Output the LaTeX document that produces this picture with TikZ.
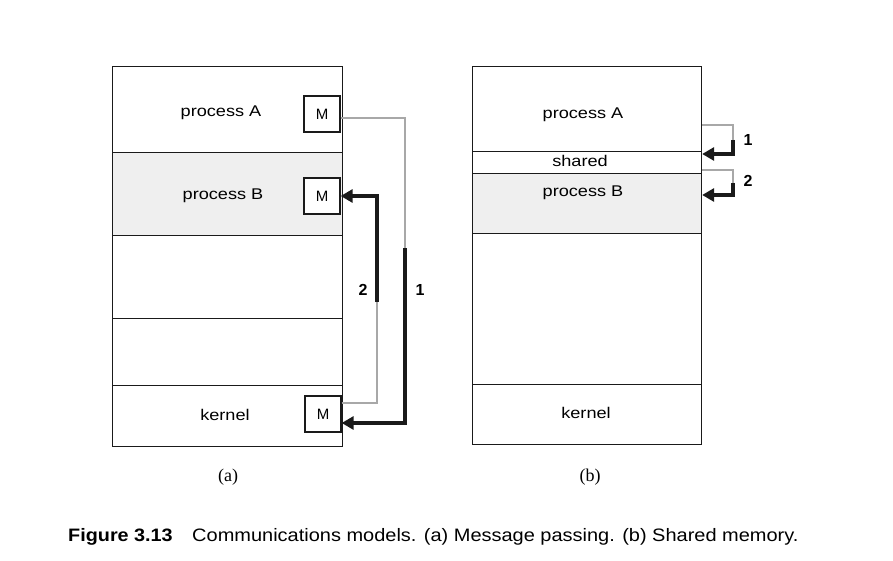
\documentclass[tikz,border=0pt]{standalone}
\usepackage{fontspec}
\setmainfont{Liberation Sans}
\newfontfamily\subfont{Liberation Serif}
\usetikzlibrary{arrows.meta,calc,positioning}
\definecolor{Ink}{HTML}{1A1A1A}
\definecolor{Faint}{HTML}{A8A8A8}
\definecolor{Dots}{HTML}{EFEFEF}

\begin{document}
\begin{tikzpicture}[x=1pt,y=-1pt,
      part/.style={draw=Ink,line width=0.8pt,minimum width=229.5pt,inner sep=0pt},
      dotted fill/.style={fill=Dots},
      mbox/.style={draw=Ink,line width=1.3pt,fill=white,minimum width=36pt,minimum height=36pt,
        inner sep=0pt,font=\fontsize{15}{15}\selectfont},
      lbl/.style={font=\fontsize{15.5}{17}\selectfont,xscale=1.17,inner sep=0pt},
      num/.style={font=\fontsize{16}{18}\selectfont\bfseries,inner sep=0pt},
      sub/.style={font=\subfont\fontsize{18}{20}\selectfont,inner sep=0pt},
      faint/.style={draw=Faint,line width=2pt},
      heavy/.style={draw=Ink,line width=4.5pt,-{Triangle[length=12pt,width=13pt]}}]
      \useasboundingbox (0,0) rectangle (893,561);
      \node[part,minimum height=86pt] (aA) at (227.5,109) {};
      \node[part,dotted fill,minimum height=83pt] (aB) at (227.5,193.5) {};
      \node[part,minimum height=83pt] (aF) at (227.5,276.5) {};
      \node[part,minimum height=67pt] (aG) at (227.5,351.5) {};
      \node[part,minimum height=61pt] (aK) at (227.5,415.5) {};
      \node[lbl] (aAt) at (221,113) {process A};
      \node[lbl] (aBt) at (223,196) {process B};
      \node[lbl] (aKt) at (225,415) {kernel};
      \node[mbox] (aMA) at (322,114) {M};
      \node[mbox] (aMB) at (322,196) {M};
      \node[mbox] (aMK) at (323,414) {M};
      \coordinate (aBend1) at (405,248);
      \coordinate (aBend2) at (377,302);
      \draw[faint] ([yshift=-4pt]aMA.east) -| (aBend1);
      \draw[heavy] (aBend1) |- ([yshift=-9pt]aMK.east);
      \draw[faint] ([yshift=11pt]aMK.east) -| (aBend2);
      \draw[heavy] (aBend2) |- (aMB.east);
      \node[num] (aOne) at (420,290) {1};
      \node[num] (aTwo) at (363,290) {2};
      \node[part,minimum height=85pt] (bA) at (587,108.5) {};
      \node[part,minimum height=22pt] (bS) at (587,162) {};
      \node[part,dotted fill,minimum height=60pt] (bB) at (587,203) {};
      \node[part,minimum height=151pt] (bF) at (587,308.5) {};
      \node[part,minimum height=60pt] (bK) at (587,414) {};
      \node[lbl] (bAt) at (583,115) {process A};
      \node[lbl] (bSt) at (580,161) {shared};
      \node[lbl] (bBt) at (583,193) {process B};
      \node[lbl] (bKt) at (586,413) {kernel};
      \coordinate (bBend1) at (733,140);
      \coordinate (bBend2) at (733,183);
      \draw[faint] ([yshift=-16.5pt]bA.east) -| (bBend1);
      \draw[heavy] (bBend1) |- ([yshift=8pt]bS.east);
      \draw[faint] ([yshift=-8pt]bS.east) -| (bBend2);
      \draw[heavy] (bBend2) |- ([yshift=8pt]bB.east);
      \node[num] (bOne) at (748,140) {1};
      \node[num] (bTwo) at (748,181) {2};
      \node[sub] (aCap) at (228,477) {(a)};
      \node[sub] (bCap) at (590,477) {(b)};
      \node[anchor=west,font=\fontsize{18}{20}\selectfont\bfseries,xscale=1.1,inner sep=0pt] (figNo) at (68,537) {Figure 3.13};
      \node[anchor=west,font=\fontsize{18}{20}\selectfont,xscale=1.11,inner sep=0pt] (figText) at (192,537)
        {Communications models. (a) Message passing. (b) Shared memory.};
    \end{tikzpicture}
\end{document}
